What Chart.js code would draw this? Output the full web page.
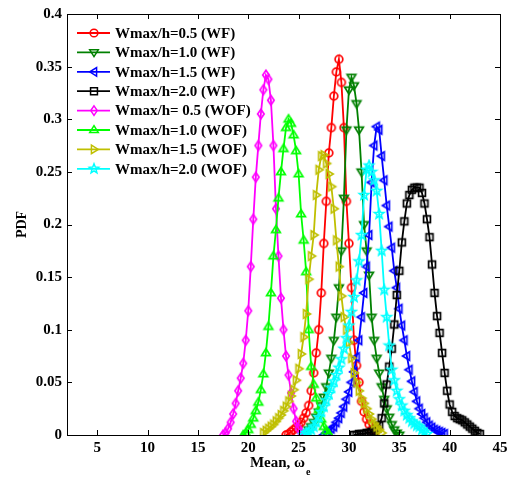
<!DOCTYPE html>
<html>
<head>
<meta charset="utf-8">
<script src="https://cdn.jsdelivr.net/npm/chart.js@4.4.1/dist/chart.umd.min.js"></script>
<style>
  html, body { margin: 0; padding: 0; background: #fff; }
  #wrap { width: 515px; height: 479px; }
</style>
</head>
<body>
<div id="wrap"><canvas id="pdf-chart" width="515" height="479"></canvas></div>
<script>
// sampling step of every curve along the mean axis
const meanStep = 0.25;

const seriesLabels = [
  'Wmax/h=0.5 (WF)', 'Wmax/h=1.0 (WF)', 'Wmax/h=1.5 (WF)', 'Wmax/h=2.0 (WF)',
  'Wmax/h= 0.5 (WOF)', 'Wmax/h=1.0 (WOF)', 'Wmax/h=1.5 (WOF)', 'Wmax/h=2.0 (WOF)',
];

const wf05Start = 23.75;
const wf05Pdf = [0.000, 0.001, 0.003, 0.005, 0.007, 0.009, 0.012, 0.016, 0.021, 0.028, 0.042, 0.059,
  0.078, 0.100, 0.135, 0.182, 0.222, 0.268, 0.292, 0.322, 0.345, 0.357, 0.335, 0.292, 0.222, 0.182,
  0.140, 0.090, 0.066, 0.050, 0.032, 0.022, 0.015, 0.010, 0.005, 0.001];

const wf10Start = 25.5;
const wf10Pdf = [0.000, 0.002, 0.005, 0.008, 0.012, 0.017, 0.022, 0.028, 0.036, 0.046, 0.059, 0.073,
  0.090, 0.112, 0.140, 0.175, 0.225, 0.290, 0.328, 0.340, 0.332, 0.315, 0.290, 0.250, 0.200, 0.175,
  0.152, 0.112, 0.090, 0.073, 0.059, 0.046, 0.034, 0.025, 0.017, 0.010, 0.005, 0.002, 0.000];

const wf15Start = 27.5;
const wf15Pdf = [0.000, 0.002, 0.004, 0.006, 0.008, 0.012, 0.016, 0.021, 0.027, 0.034, 0.041, 0.050,
  0.060, 0.074, 0.090, 0.112, 0.135, 0.160, 0.190, 0.240, 0.275, 0.293, 0.290, 0.265, 0.242, 0.218,
  0.198, 0.178, 0.156, 0.140, 0.120, 0.104, 0.090, 0.075, 0.062, 0.051, 0.041, 0.032, 0.025, 0.020,
  0.016, 0.012, 0.009, 0.007, 0.005, 0.004, 0.003, 0.002, 0.001];

const wf20Start = 30.5;
const wf20Pdf = [0.000, 0.000, 0.001, 0.001, 0.001, 0.002, 0.002, 0.003, 0.004, 0.006, 0.009, 0.016,
  0.030, 0.048, 0.065, 0.082, 0.105, 0.133, 0.156, 0.183, 0.203, 0.220, 0.228, 0.233, 0.235, 0.235,
  0.235, 0.230, 0.220, 0.205, 0.188, 0.162, 0.135, 0.113, 0.097, 0.078, 0.059, 0.042, 0.029, 0.022,
  0.018, 0.016, 0.015, 0.014, 0.012, 0.010, 0.008, 0.006, 0.004, 0.002, 0.001];

const wof05Start = 17.5;
const wof05Pdf = [0.000, 0.002, 0.006, 0.012, 0.020, 0.030, 0.042, 0.054, 0.068, 0.090, 0.118, 0.160,
  0.205, 0.245, 0.275, 0.305, 0.328, 0.342, 0.338, 0.318, 0.275, 0.215, 0.170, 0.130, 0.100, 0.075,
  0.057, 0.040, 0.025, 0.013, 0.006, 0.002, 0.000];

const wof10Start = 19.5;
const wof10Pdf = [0.000, 0.002, 0.005, 0.010, 0.016, 0.023, 0.031, 0.043, 0.058, 0.078, 0.103, 0.135,
  0.170, 0.195, 0.225, 0.250, 0.272, 0.292, 0.300, 0.296, 0.285, 0.270, 0.248, 0.210, 0.185, 0.155,
  0.100, 0.065, 0.048, 0.035, 0.024, 0.015, 0.008, 0.004, 0.001];

const wof15Start = 21.5;
const wof15Pdf = [0.002, 0.004, 0.006, 0.008, 0.010, 0.013, 0.016, 0.019, 0.023, 0.027, 0.032, 0.037,
  0.043, 0.052, 0.063, 0.077, 0.093, 0.115, 0.148, 0.170, 0.190, 0.228, 0.252, 0.265, 0.266, 0.258,
  0.248, 0.236, 0.215, 0.185, 0.160, 0.132, 0.112, 0.100, 0.088, 0.073, 0.059, 0.050, 0.042, 0.035,
  0.030, 0.025, 0.020, 0.015, 0.011, 0.008, 0.005, 0.002];

const wof20Start = 25.5;
const wof20Pdf = [0.000, 0.002, 0.003, 0.005, 0.008, 0.012, 0.017, 0.022, 0.027, 0.033, 0.039, 0.045,
  0.051, 0.057, 0.064, 0.072, 0.082, 0.092, 0.104, 0.117, 0.131, 0.147, 0.165, 0.190, 0.228, 0.252,
  0.256, 0.250, 0.242, 0.232, 0.210, 0.175, 0.138, 0.112, 0.085, 0.062, 0.052, 0.042, 0.034, 0.028,
  0.023, 0.019, 0.016, 0.013, 0.011, 0.009, 0.008, 0.005, 0.003, 0.001];

const xTicks = [5, 10, 15, 20, 25, 30, 35, 40, 45];
const yTicks = [0, 0.05, 0.1, 0.15, 0.2, 0.25, 0.3, 0.35, 0.4];

const seriesStarts = [wf05Start, wf10Start, wf15Start, wf20Start, wof05Start, wof10Start, wof15Start, wof20Start];
const seriesValues = [wf05Pdf, wf10Pdf, wf15Pdf, wf20Pdf, wof05Pdf, wof10Pdf, wof15Pdf, wof20Pdf];
const seriesColors = ['#ff0000', '#008000', '#0000ff', '#000000', '#ff00ff', '#00ff00', '#bfbf00', '#00ffff'];
const seriesMarkers = ['circle', 'triDown', 'triLeft', 'square', 'diamond', 'triUp', 'triRight', 'star'];

const FONT = '"Liberation Serif", "Times New Roman", serif';

const markerPath = (ctx, shape, cx, cy, r) => {
  ctx.beginPath();
  const poly = (pts) => {
    ctx.moveTo(cx + pts[0][0], cy + pts[0][1]);
    pts.slice(1).forEach((p) => ctx.lineTo(cx + p[0], cy + p[1]));
    ctx.closePath();
  };
  switch (shape) {
    case 'circle': ctx.arc(cx, cy, r * 0.9, 0, Math.PI * 2); break;
    case 'square': ctx.rect(cx - r * 0.8, cy - r * 0.8, r * 1.6, r * 1.6); break;
    case 'diamond': poly([[0, -r * 1.1], [r * 0.75, 0], [0, r * 1.1], [-r * 0.75, 0]]); break;
    case 'triDown': poly([[-r, -r * 0.6], [r, -r * 0.6], [0, r]]); break;
    case 'triUp': poly([[-r, r * 0.6], [r, r * 0.6], [0, -r]]); break;
    case 'triLeft': poly([[r * 0.6, -r], [r * 0.6, r], [-r, 0]]); break;
    case 'triRight': poly([[-r * 0.6, -r], [-r * 0.6, r], [r, 0]]); break;
    case 'star': {
      const pts = [];
      for (let k = 0; k < 10; k++) {
        const a = -Math.PI / 2 + k * Math.PI / 5;
        const rr = k % 2 === 0 ? r * 1.15 : r * 0.5;
        pts.push([rr * Math.cos(a), rr * Math.sin(a)]);
      }
      poly(pts);
      break;
    }
    default: ctx.arc(cx, cy, r, 0, Math.PI * 2);
  }
  ctx.stroke();
};

const makeMarker = (shape, color) => {
  const c = document.createElement('canvas');
  c.width = 14;
  c.height = 14;
  const ctx = c.getContext('2d');
  ctx.strokeStyle = color;
  ctx.lineWidth = 1.7;
  ctx.lineJoin = 'miter';
  markerPath(ctx, shape, 7, 7, 4.3);
  return c;
};

const datasets = seriesLabels.map((label, i) => ({
  label,
  data: seriesValues[i].map((v, k) => ({ x: seriesStarts[i] + k * meanStep, y: v })),
  borderColor: seriesColors[i],
  borderWidth: 1.8,
  pointStyle: makeMarker(seriesMarkers[i], seriesColors[i]),
  pointRadius: 4,
  tension: 0,
  fill: false,
  order: -i,
}));

const framePlugin = {
  id: 'frame',
  afterDatasetsDraw(chart) {
    const { ctx, chartArea: a, scales } = chart;
    ctx.save();
    ctx.strokeStyle = '#000';
    ctx.lineWidth = 1;
    ctx.strokeRect(Math.round(a.left) + 0.5, Math.round(a.top) + 0.5,
      Math.round(a.right - a.left), Math.round(a.bottom - a.top));
    const tl = 5;
    ctx.beginPath();
    xTicks.forEach((v) => {
      const px = Math.round(scales.x.getPixelForValue(v)) + 0.5;
      ctx.moveTo(px, a.bottom); ctx.lineTo(px, a.bottom - tl);
      ctx.moveTo(px, a.top); ctx.lineTo(px, a.top + tl);
    });
    yTicks.forEach((v) => {
      const py = Math.round(scales.y.getPixelForValue(v)) + 0.5;
      ctx.moveTo(a.left, py); ctx.lineTo(a.left + tl, py);
      ctx.moveTo(a.right, py); ctx.lineTo(a.right - tl, py);
    });
    ctx.stroke();

    // legend
    ctx.font = `bold 15px ${FONT}`;
    ctx.textBaseline = 'middle';
    ctx.textAlign = 'left';
    seriesLabels.forEach((label, i) => {
      const y = 33 + i * 19.4;
      ctx.strokeStyle = seriesColors[i];
      ctx.lineWidth = 1.8;
      ctx.beginPath();
      ctx.moveTo(77, y); ctx.lineTo(110, y);
      ctx.stroke();
      ctx.lineWidth = 1.5;
      markerPath(ctx, seriesMarkers[i], 94, y, 4.3);
      ctx.fillStyle = '#000';
      ctx.fillText(label, 115, y + 1);
    });

    // axis titles
    ctx.fillStyle = '#000';
    ctx.font = `bold 15px ${FONT}`;
    const main = 'Mean, \u03c9';
    const w = ctx.measureText(main).width;
    const cx = (a.left + a.right) / 2 - 3;
    ctx.fillText(main, cx - w / 2 - 3, 463);
    ctx.font = `bold 10px ${FONT}`;
    ctx.fillText('e', cx + w / 2 - 2, 472);

    ctx.translate(22, (a.top + a.bottom) / 2);
    ctx.rotate(-Math.PI / 2);
    ctx.textAlign = 'center';
    ctx.font = `bold 14px ${FONT}`;
    ctx.fillText('PDF', 0, 0);
    ctx.restore();
  },
};

const tickFont = { family: FONT, size: 15, weight: 'bold' };

new Chart(document.getElementById('pdf-chart'), {
  type: 'line',
  data: { datasets },
  options: {
    responsive: false,
    animation: false,
    layout: { padding: { left: 0, right: 15, top: 13, bottom: 0 } },
    plugins: { legend: { display: false }, tooltip: { enabled: false } },
    scales: {
      x: {
        type: 'linear',
        min: 2,
        max: 45,
        afterBuildTicks: (scale) => { scale.ticks = xTicks.map((value) => ({ value })); },
        afterFit: (scale) => { scale.height = 44; },
        grid: { display: false, drawTicks: false },
        border: { display: false },
        ticks: { font: tickFont, color: '#000', padding: 4, maxRotation: 0 },
      },
      y: {
        min: 0,
        max: 0.4,
        afterBuildTicks: (scale) => { scale.ticks = yTicks.map((value) => ({ value })); },
        afterFit: (scale) => { scale.width = 67; },
        grid: { display: false, drawTicks: false },
        border: { display: false },
        ticks: {
          font: tickFont,
          color: '#000',
          padding: 5,
          callback: (value) => String(Number(value.toFixed(2))),
        },
      },
    },
  },
  plugins: [framePlugin],
});
</script>
</body>
</html>
